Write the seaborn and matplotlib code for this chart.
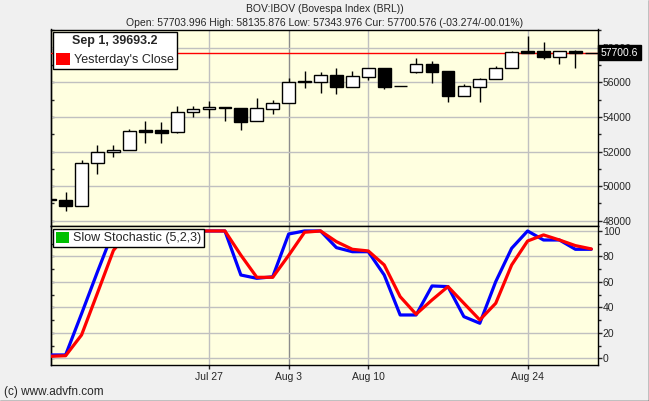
import matplotlib
matplotlib.use('Agg')
import matplotlib.pyplot as plt
import matplotlib.transforms as mtransforms
from matplotlib.lines import Line2D
from matplotlib.patches import Patch
from matplotlib.ticker import MultipleLocator
import numpy as np
import pandas as pd
import seaborn as sns

# trading days, Jul 13 - Aug 28 (weekends skipped)
dates = ['Jul 13', 'Jul 14', 'Jul 15', 'Jul 16', 'Jul 17',
         'Jul 20', 'Jul 21', 'Jul 22', 'Jul 23', 'Jul 24',
         'Jul 27', 'Jul 28', 'Jul 29', 'Jul 30', 'Jul 31',
         'Aug 3', 'Aug 4', 'Aug 5', 'Aug 6', 'Aug 7',
         'Aug 10', 'Aug 11', 'Aug 12', 'Aug 13', 'Aug 14',
         'Aug 17', 'Aug 18', 'Aug 19', 'Aug 20', 'Aug 21',
         'Aug 24', 'Aug 25', 'Aug 26', 'Aug 27', 'Aug 28']

opens = [49250, 49210, 48880, 51330, 51960,
         52080, 53250, 53250, 53115, 54270,
         54440, 54560, 54500, 53750, 54480,
         54790, 56050, 56035, 56420, 55750,
         56320, 56825, 55770, 56580, 57056,
         56650, 55230, 55750, 56170, 56810,
         57820, 57800, 57440, 57820, 57704]
highs = [49300, 49670, 51520, 52380, 52380,
         53300, 53770, 53710, 54650, 54650,
         54920, 54560, 54500, 55090, 54980,
         56230, 56650, 56610, 56840, 56650,
         56825, 56825, 55770, 57385, 57230,
         56650, 55900, 56265, 56960, 57820,
         58670, 58340, 57790, 57860, 57704]
lows = [49150, 48590, 48880, 50710, 51710,
        52080, 52520, 52520, 53060, 54015,
        53960, 53770, 53250, 53750, 54190,
        54790, 55690, 55400, 55325, 55750,
        56130, 55600, 55770, 56520, 55980,
        54880, 55230, 54880, 56170, 56810,
        57690, 57360, 57070, 56840, 57700]
closes = [49200, 48880, 51330, 51960, 52090,
          53190, 53150, 53090, 54270, 54440,
          54575, 54500, 53730, 54500, 54800,
          56000, 56000, 56400, 55750, 56360,
          56825, 55750, 55770, 57040, 56610,
          55230, 55790, 56190, 56825, 57750,
          57690, 57440, 57790, 57704, 57700.6]

prev_close = 57703.85
cur_price = 57700.6

# slow stochastic (5,2,3)
stoch_k = [2.6, 2.6, 35, 68, 100, 100, 100, 100, 100, 100,
           100, 100, 65.4, 62.8, 64, 97.6, 100, 100, 86.9, 83.7,
           83.7, 65.4, 34, 34, 56.8, 56.3, 32.7, 27.5, 60.2, 86.4,
           100, 92.9, 92.9, 85.6, 85.6]
stoch_d = [1.5, 2, 18.3, 51.3, 84.7, 100, 100, 100, 100, 100,
           100, 100, 81, 63.6, 63.6, 80.8, 99, 100, 91.6, 85.6,
           84.3, 73.3, 48.4, 34.6, 45.8, 56.3, 43.2, 30.1, 43.2, 73.3,
           92.1, 96.9, 92.9, 88.5, 85.9]

label_days = ['Jul 27', 'Aug 3', 'Aug 10', 'Aug 24']

sns.set_style('white')
plt.rcParams['font.family'] = ['Liberation Sans', 'DejaVu Sans']

W, H = 649, 401
fig = plt.figure(figsize=(W / 100, H / 100), dpi=100, facecolor='#F0F0F0')
left, right = 50.5, 598
ax1 = fig.add_axes([left / W, 1 - 226 / H, (right - left) / W, (226 - 29.5) / H])
ax2 = fig.add_axes([left / W, 1 - 365 / H, (right - left) / W, (365 - 226) / H])

idx = np.arange(len(dates))
o = np.array(opens)
c = np.array(closes)
up = c >= o
label_pos = [dates.index(d) for d in label_days]

# price panel
ax1.set_facecolor('#FFFFE0')
ax1.axhline(prev_close, color='red', lw=1.0, zorder=2.6)
ax1.vlines(idx, lows, highs, color='black', lw=1, zorder=3)
ax1.bar(idx, np.abs(c - o), bottom=np.minimum(o, c), width=0.8,
        color=np.where(up, 'white', 'black'), edgecolor='black',
        linewidth=1, zorder=4)
ax1.set_xlim(0.05, 34.42)
ax1.set_ylim(47700, 59050)
ax1.set_yticks(range(48000, 58001, 2000))
ax1.yaxis.set_minor_locator(MultipleLocator(1000))
ax1.set_xticks(label_pos)
ax1.tick_params(axis='x', which='both', length=0, labelbottom=False)

# stochastic panel
ax2.set_facecolor('#FFFFE0')
stoch = pd.DataFrame({'day': idx, 'k': stoch_k, 'd': stoch_d})
sns.lineplot(data=stoch, x='day', y='k', color='blue', lw=2.3, ax=ax2, zorder=3)
sns.lineplot(data=stoch, x='day', y='d', color='red', lw=2.3, ax=ax2, zorder=3.1)
ax2.set_xlim(0.05, 34.42)
ax2.set_ylim(-5.3, 103.9)
ax2.set_yticks(range(0, 101, 20))
ax2.yaxis.set_minor_locator(MultipleLocator(10))
ax2.set_xticks(label_pos)
ax2.set_xticklabels(label_days)
ax2.set_xlabel('')
ax2.set_ylabel('')
ax2.tick_params(axis='x', which='major', direction='out', length=3, width=1,
                labelsize=7.5, pad=2, bottom=True)

for ax, minor_step in ((ax1, 1000), (ax2, 10)):
    ax.grid(True, color='#C0C0C0', lw=1)
    ax.set_axisbelow(True)
    ax.get_xgridlines()[1].set_color('#8C8C8C')
    ax.yaxis.tick_right()
    ax.tick_params(axis='y', which='major', direction='out', length=3, width=1,
                   labelsize=7.5, pad=0.5, right=True, left=False)
    ax.tick_params(axis='y', which='minor', direction='out', length=2, width=1,
                   right=True, left=False)
    for s in ax.spines.values():
        s.set_color('black')
        s.set_linewidth(1)
    lo, hi = ax.get_ylim()
    sec = ax.secondary_yaxis('left', functions=(lambda v: v, lambda v: v))
    sec.set_yticks(np.arange(np.ceil(lo / minor_step) * minor_step, hi, minor_step))
    sec.set_yticklabels([])
    sec.tick_params(axis='y', direction='in', length=2.5, width=1)
    sec.spines['left'].set_linewidth(1)

# current price tag
tr = mtransforms.blended_transform_factory(ax1.transAxes, ax1.transData)
ax1.text(1.005, cur_price, '57700.6', transform=tr, ha='left', va='center',
         color='white', fontsize=7.5, clip_on=False, zorder=10,
         bbox=dict(facecolor='black', edgecolor='black', boxstyle='square,pad=0.25'))

leg1 = ax1.legend(handles=[Patch(facecolor='red', edgecolor='none', label="Yesterday's Close")],
                  title='Sep 1, 39693.2', loc='upper left', bbox_to_anchor=(0.0046, 0.987),
                  frameon=True, fancybox=False, edgecolor='black', framealpha=1,
                  prop={'size': 9}, title_fontproperties={'weight': 'bold', 'size': 9},
                  handlelength=1.1, handleheight=1.0, handletextpad=0.3,
                  borderpad=0.25, borderaxespad=0)
leg1.get_frame().set_linewidth(1)

leg2 = ax2.legend(handles=[Patch(facecolor='#00C000', edgecolor='none', label='Slow Stochastic (5,2,3)')],
                  loc='upper left', bbox_to_anchor=(0.0046, 0.978),
                  frameon=True, fancybox=False, edgecolor='black', framealpha=1,
                  prop={'size': 9}, handlelength=1.1, handleheight=1.0,
                  handletextpad=0.3, borderpad=0.2, borderaxespad=0)
leg2.get_frame().set_linewidth(1)

fig.text(0.5, 1 - 9 / H, 'BOV:IBOV (Bovespa Index (BRL))', ha='center', va='center', fontsize=7.5)
fig.text(0.5, 1 - 22.7 / H,
         'Open: 57703.996 High: 58135.876 Low: 57343.976 Cur: 57700.576 (-03.274/-00.01%)',
         ha='center', va='center', fontsize=7.5)
fig.text(4 / W, 1 - 392.5 / H, '(c) www.advfn.com', ha='left', va='center', fontsize=8.5)

# window edge
fig.add_artist(Line2D([0, 1], [0.5 / H, 0.5 / H], transform=fig.transFigure, color='black', lw=1))
fig.add_artist(Line2D([1 - 0.5 / W, 1 - 0.5 / W], [0, 1], transform=fig.transFigure, color='black', lw=1))

fig.savefig('out.png', dpi=100, facecolor=fig.get_facecolor())
